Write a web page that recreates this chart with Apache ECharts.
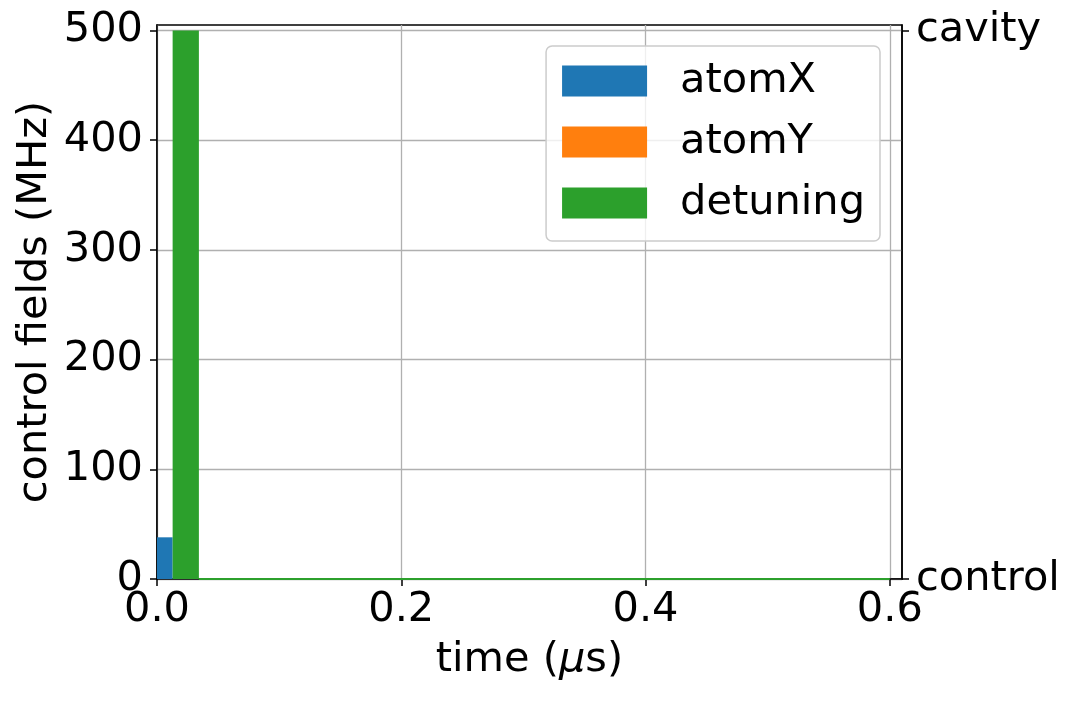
<!DOCTYPE html>
<html>
<head>
<meta charset="utf-8">
<script src="https://cdn.jsdelivr.net/npm/echarts@6/dist/echarts.min.js"></script>
<style>
  html, body { margin: 0; padding: 0; background: #fff; }
  #chart { width: 1077px; height: 702px; }
</style>
</head>
<body>
<div id="chart"></div>
<script>
// series names + colours (matplotlib tab10)
var seriesNames = ['atomX', 'atomY', 'detuning'];
var seriesColors = ['#1f77b4', '#ff7f0e', '#2ca02c'];

// pulses: [t start (us), t end (us), amplitude (MHz)]
var atomX = [[0, 0.0128, 38]];
var atomY = [[0.0128, 0.0128, 0]];
var detuning = [[0.0128, 0.0343, 500]];
// detuning stays at zero for the rest of the sequence
var detuningTail = [[0.0343, 0], [0.6, 0]];

var xTicks = [0, 0.2, 0.4, 0.6];
var yTicks = [0, 100, 200, 300, 400, 500];
var rightTicks = [0, 500];
var rightLabels = { 0: 'control', 500: 'cavity' };

var FONT = 'DejaVu Sans';
var FS = 41.5;

var chart = echarts.init(document.getElementById('chart'));

function pulseRender(params, api) {
    var p0 = api.coord([api.value(0), 0]);
    var p1 = api.coord([api.value(1), api.value(2)]);
    return {
        type: 'rect',
        shape: { x: p0[0], y: p1[1], width: p1[0] - p0[0], height: p0[1] - p1[1] },
        style: { fill: api.visual('color') }
    };
}

function pulseSeries(name, data, color) {
    return {
        name: name,
        type: 'custom',
        renderItem: pulseRender,
        data: data,
        itemStyle: { color: color },
        encode: { x: [0, 1], y: 2 },
        clip: true
    };
}

var option = {
    animation: false,
    backgroundColor: '#fff',
    textStyle: { fontFamily: FONT },
    grid: {
        left: 157, right: 175, top: 25, bottom: 123,
        show: true, borderColor: '#000', borderWidth: 1.5, backgroundColor: 'transparent'
    },
    legend: {
        orient: 'vertical',
        right: 197, top: 46,
        data: seriesNames,
        icon: 'rect',
        itemWidth: 85, itemHeight: 31, itemGap: 19,
        padding: [14, 15, 17, 16],
        backgroundColor: 'rgba(255,255,255,0.8)',
        borderColor: '#cccccc', borderWidth: 1.5, borderRadius: 6,
        textStyle: { fontFamily: FONT, fontSize: FS, color: '#000', lineHeight: 31, padding: [0, 0, 0, 28] }
    },
    xAxis: {
        type: 'value', min: 0, max: 0.61, interval: 0.2,
        name: 'time ({i|μ}s)', nameLocation: 'middle', nameGap: 60,
        nameTextStyle: {
            fontFamily: FONT, fontSize: FS, color: '#000',
            rich: { i: { fontFamily: FONT, fontSize: FS, fontStyle: 'italic', color: '#000' } }
        },
        axisLine: { show: true, lineStyle: { color: '#000', width: 1.5 } },
        axisTick: { show: true, length: 7, customValues: xTicks, lineStyle: { color: '#000', width: 1.5 } },
        axisLabel: {
            customValues: xTicks, margin: 10, fontFamily: FONT, fontSize: FS, color: '#000',
            formatter: function (v) { return v.toFixed(1); }
        },
        splitLine: { show: true, lineStyle: { color: '#b0b0b0', width: 1.3 } }
    },
    yAxis: [{
        type: 'value', min: 0, max: 505, interval: 100,
        name: 'control fields (MHz)', nameLocation: 'middle', nameGap: 101,
        nameMoveOverlap: false,
        nameTextStyle: { fontFamily: FONT, fontSize: FS, color: '#000' },
        axisLine: { show: true, lineStyle: { color: '#000', width: 1.5 } },
        axisTick: { show: true, length: 7, customValues: yTicks, lineStyle: { color: '#000', width: 1.5 } },
        axisLabel: { customValues: yTicks, margin: 14, fontFamily: FONT, fontSize: FS, color: '#000' },
        splitLine: { show: true, lineStyle: { color: '#b0b0b0', width: 1.3 } }
    }, {
        type: 'value', min: 0, max: 505, position: 'right',
        axisLine: { show: true, lineStyle: { color: '#000', width: 1.5 } },
        axisTick: { show: true, length: 7, customValues: rightTicks, lineStyle: { color: '#000', width: 1.5 } },
        axisLabel: {
            customValues: rightTicks, margin: 14, fontFamily: FONT, fontSize: FS, color: '#000',
            formatter: function (v) { return rightLabels[v] || ''; }
        },
        splitLine: { show: false }
    }],
    series: [
        pulseSeries('atomX', atomX, seriesColors[0]),
        pulseSeries('atomY', atomY, seriesColors[1]),
        pulseSeries('detuning', detuning, seriesColors[2]),
        {
            name: 'detuning',
            type: 'line',
            data: detuningTail,
            symbol: 'none',
            lineStyle: { color: seriesColors[2], width: 2 },
            itemStyle: { color: seriesColors[2] },
            z: 1
        }
    ]
};

chart.setOption(option);

window.onresize = function () {
    chart.resize();
};
</script>
</body>
</html>
